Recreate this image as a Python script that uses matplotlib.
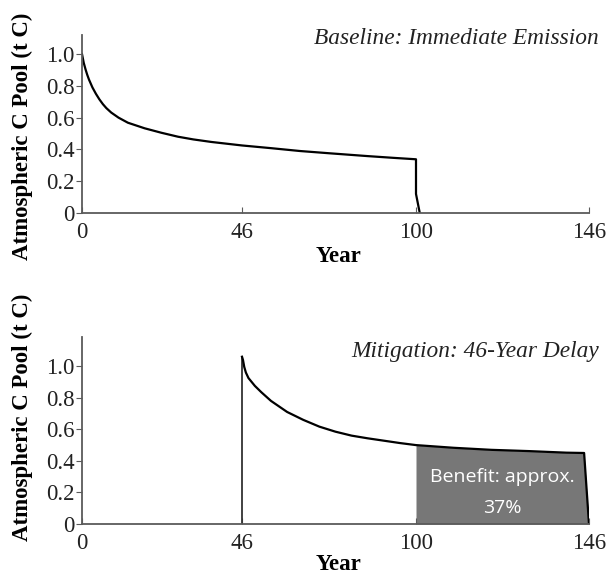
import numpy as np
import matplotlib
matplotlib.use("Agg")
import matplotlib.pyplot as plt

# ---- data ----
xticks = [0, 46, 100, 146]
yticks = [0, 0.2, 0.4, 0.6, 0.8, 1.0]
ytick_labels = ["0", "0.2", "0.4", "0.6", "0.8", "1.0"]

base_year = [0, 0.5, 1, 1.5, 2, 3, 4, 5, 6, 7, 8.4, 10.5, 13.2, 18, 22.8, 27.6,
             32, 37.2, 46, 55, 64, 73, 85, 93, 100, 100, 101]
base_pool = [1.0, 0.945, 0.905, 0.87, 0.84, 0.79, 0.75, 0.715, 0.685, 0.66, 0.632, 0.60,
             0.568, 0.533, 0.505, 0.48, 0.463, 0.447, 0.425, 0.408, 0.39, 0.376, 0.358,
             0.347, 0.338, 0.12, 0.0]

mit_year = [46, 46, 46.3, 46.7, 47.2, 48, 50, 52, 55, 60, 65, 70, 75, 80, 85, 90, 95, 100,
            110, 120, 130, 140, 144.7, 146]
mit_pool = [0, 1.06, 1.04, 0.995, 0.96, 0.925, 0.875, 0.835, 0.78, 0.71, 0.66, 0.617,
            0.585, 0.56, 0.543, 0.528, 0.513, 0.50, 0.483, 0.47, 0.462, 0.452, 0.45, 0.0]

benefit_start = 100
benefit_lines = ["Benefit: approx.", "37%"]
benefit_pos = [(123, 0.298), (123, 0.10)]

titles = ["Baseline: Immediate Emission", "Mitigation: 46-Year Delay"]

# piecewise axis mapping (tick spacing of original figure)
_knots_x = [0, 46, 100, 146]
_knots_p = [0, 160, 334, 507]


def fwd(x):
    return np.interp(x, _knots_x, _knots_p)


def inv(p):
    return np.interp(p, _knots_p, _knots_x)


serif = "Liberation Serif"
fs = 16.5

fig = plt.figure(figsize=(6.08, 5.75), dpi=100)
ax1 = fig.add_axes([82 / 608, 1 - 213 / 575, 507 / 608, (213 - 35) / 575])
ax2 = fig.add_axes([82 / 608, 1 - 524 / 575, 507 / 608, (524 - 337) / 575])

spine_col = "#5a5a5a"
for ax, ylim, title, ty in [(ax1, 1.12, titles[0], 0.98), (ax2, 1.185, titles[1], 0.92)]:
    ax.set_xscale("function", functions=(fwd, inv))
    ax.set_xlim(0, 146)
    ax.set_ylim(0, ylim)
    ax.set_xticks(xticks)
    ax.set_xticklabels([str(t) for t in xticks], fontfamily=serif, fontsize=fs)
    ax.set_yticks(yticks)
    ax.set_yticklabels(ytick_labels, fontfamily=serif, fontsize=fs)
    ax.xaxis.set_minor_locator(matplotlib.ticker.NullLocator())
    for s in ["top", "right"]:
        ax.spines[s].set_visible(False)
    for s in ["left", "bottom"]:
        ax.spines[s].set_color(spine_col)
        ax.spines[s].set_linewidth(1.3)
    ax.tick_params(axis="x", direction="in", length=4, color=spine_col, pad=6.5,
                   labelcolor="#222222")
    ax.tick_params(axis="y", direction="out", length=4, color=spine_col, pad=1.5,
                   labelcolor="#222222")
    ax.set_xlabel("Year", fontfamily=serif, fontweight="bold", fontsize=fs)
    ax.set_ylabel("Atmospheric C Pool (t C)", fontfamily=serif, fontweight="bold",
                  fontsize=fs)
    ax.text(1.02, ty, title, transform=ax.transAxes, ha="right", va="center",
            fontfamily=serif, fontstyle="italic", fontsize=16.8, color="#222222")

ax1.yaxis.set_label_coords(-0.118, 0.433)
ax2.yaxis.set_label_coords(-0.118, 0.572)
ax1.xaxis.set_label_coords(0.506, -43 / 178)
ax2.xaxis.set_label_coords(0.506, -41 / 187)
for ax in (ax1, ax2):
    ax.xaxis.label.set_va("center")
    ax.yaxis.label.set_va("center")

ax1.plot(base_year, base_pool, color="black", lw=1.6)

my = np.array(mit_year, dtype=float)
mp = np.array(mit_pool, dtype=float)
mask = my >= benefit_start
ax2.fill_between(my[mask], 0, mp[mask], color="#777777", lw=0)
ax2.plot(my[:2], mp[:2], color="#333333", lw=1.3)
ax2.plot(my[1:], mp[1:], color="black", lw=1.6)

for txt, (bx, by) in zip(benefit_lines, benefit_pos):
    ax2.text(bx, by, txt, ha="center", va="center", color="white",
             fontfamily="Open Sans", fontsize=14)

fig.savefig("out.png", dpi=100)
